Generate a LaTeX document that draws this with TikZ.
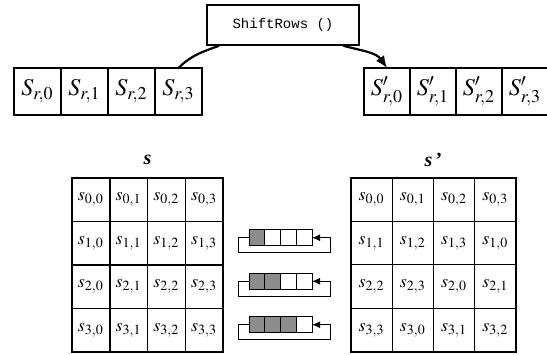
\documentclass[tikz,border=0pt]{standalone}
\usepackage{mathptmx}
\usepackage{fontspec}
\setmainfont{Liberation Serif}
\setmonofont{Liberation Mono}
\usetikzlibrary{arrows.meta, positioning}
\tikzstyle{rowcell} = [draw, line width=0.9pt, minimum width=23.5pt, minimum height=23.5pt, inner sep=0pt, outer sep=0pt, font=\large]
\tikzstyle{matcell} = [draw, line width=0.7pt, minimum width=18.9pt, minimum height=21.75pt, inner sep=0pt, outer sep=0pt, font=\small]
\tikzstyle{regcell} = [draw, line width=0.4pt, minimum width=7.9pt, minimum height=8pt, inner sep=0pt, outer sep=0pt]
\tikzstyle{process} = [draw, line width=0.8pt, minimum width=76pt, minimum height=20pt, font=\ttfamily\scriptsize]
\tikzstyle{frame} = [line width=1.4pt]
\tikzstyle{link} = [line width=1.1pt]
\tikzstyle{arrow} = [line width=1.1pt,-{Latex[length=6pt,width=5pt]}]
\tikzstyle{regloop} = [line width=0.5pt,-{Latex[length=4pt,width=3.5pt]}]

\begin{document}
\begin{tikzpicture}[x=0.5pt, y=0.5pt]
  \useasboundingbox (0,0) rectangle (547,354);
  \node (shift) [process] at (283,329) {ShiftRows ()};
  % one row, before and after
  \foreach \j in {0,...,3} {
    \node (r\j) [rowcell] at ({37.5+47*\j},262.5) {$S_{r,\j}$};
    \node (q\j) [rowcell, minimum width=23pt] at ({387+46*\j},262.5) {$S'_{r,\j}$};
  }
  \draw[link] (r3.north) to[out=45,in=200] (shift.198);
  \draw[arrow] (shift.341) to[out=-15,in=125] (q0.north);
  % state before and after
  \node (s) at (147.5,194) {\textbf{\textit{s}}};
  \node (sp) at (433.5,194) {\textbf{\textit{s}\,'}};
  \foreach \i in {0,...,3}
    \foreach \j in {0,...,3} {
      \pgfmathtruncatemacro{\k}{mod(\i+\j,4)}
      \node (a\i\j) [matcell] at ({90.9+37.75*\j},{154.25-43.5*\i}) {$s_{\i,\j}$};
      \node (b\i\j) [matcell, line width=0.5pt, minimum width=20.6pt] at ({371.6+41.25*\j},{154.25-43.5*\i}) {$s_{\i,\k}$};
    }
  \draw[frame] (a00.north west) rectangle (a33.south east);
  \draw[frame] (b00.north west) rectangle (b33.south east);
  % rotating registers
  \foreach \i in {1,2,3} {
    \foreach \j in {0,...,3} {
      \pgfmathtruncatemacro{\shade}{(\j<\i)*45}
      \node (g\i\j) [regcell, fill=black!\shade] at ({256.9+15.75*\j},{159.75-43.5*\i}) {};
    }
    \draw[regloop] (g\i0.west) -- ++(-11,0) -- ++(0,-15) -- ++(92,0) -- ++(0,15) -- (g\i3.east);
  }
\end{tikzpicture}
\end{document}
